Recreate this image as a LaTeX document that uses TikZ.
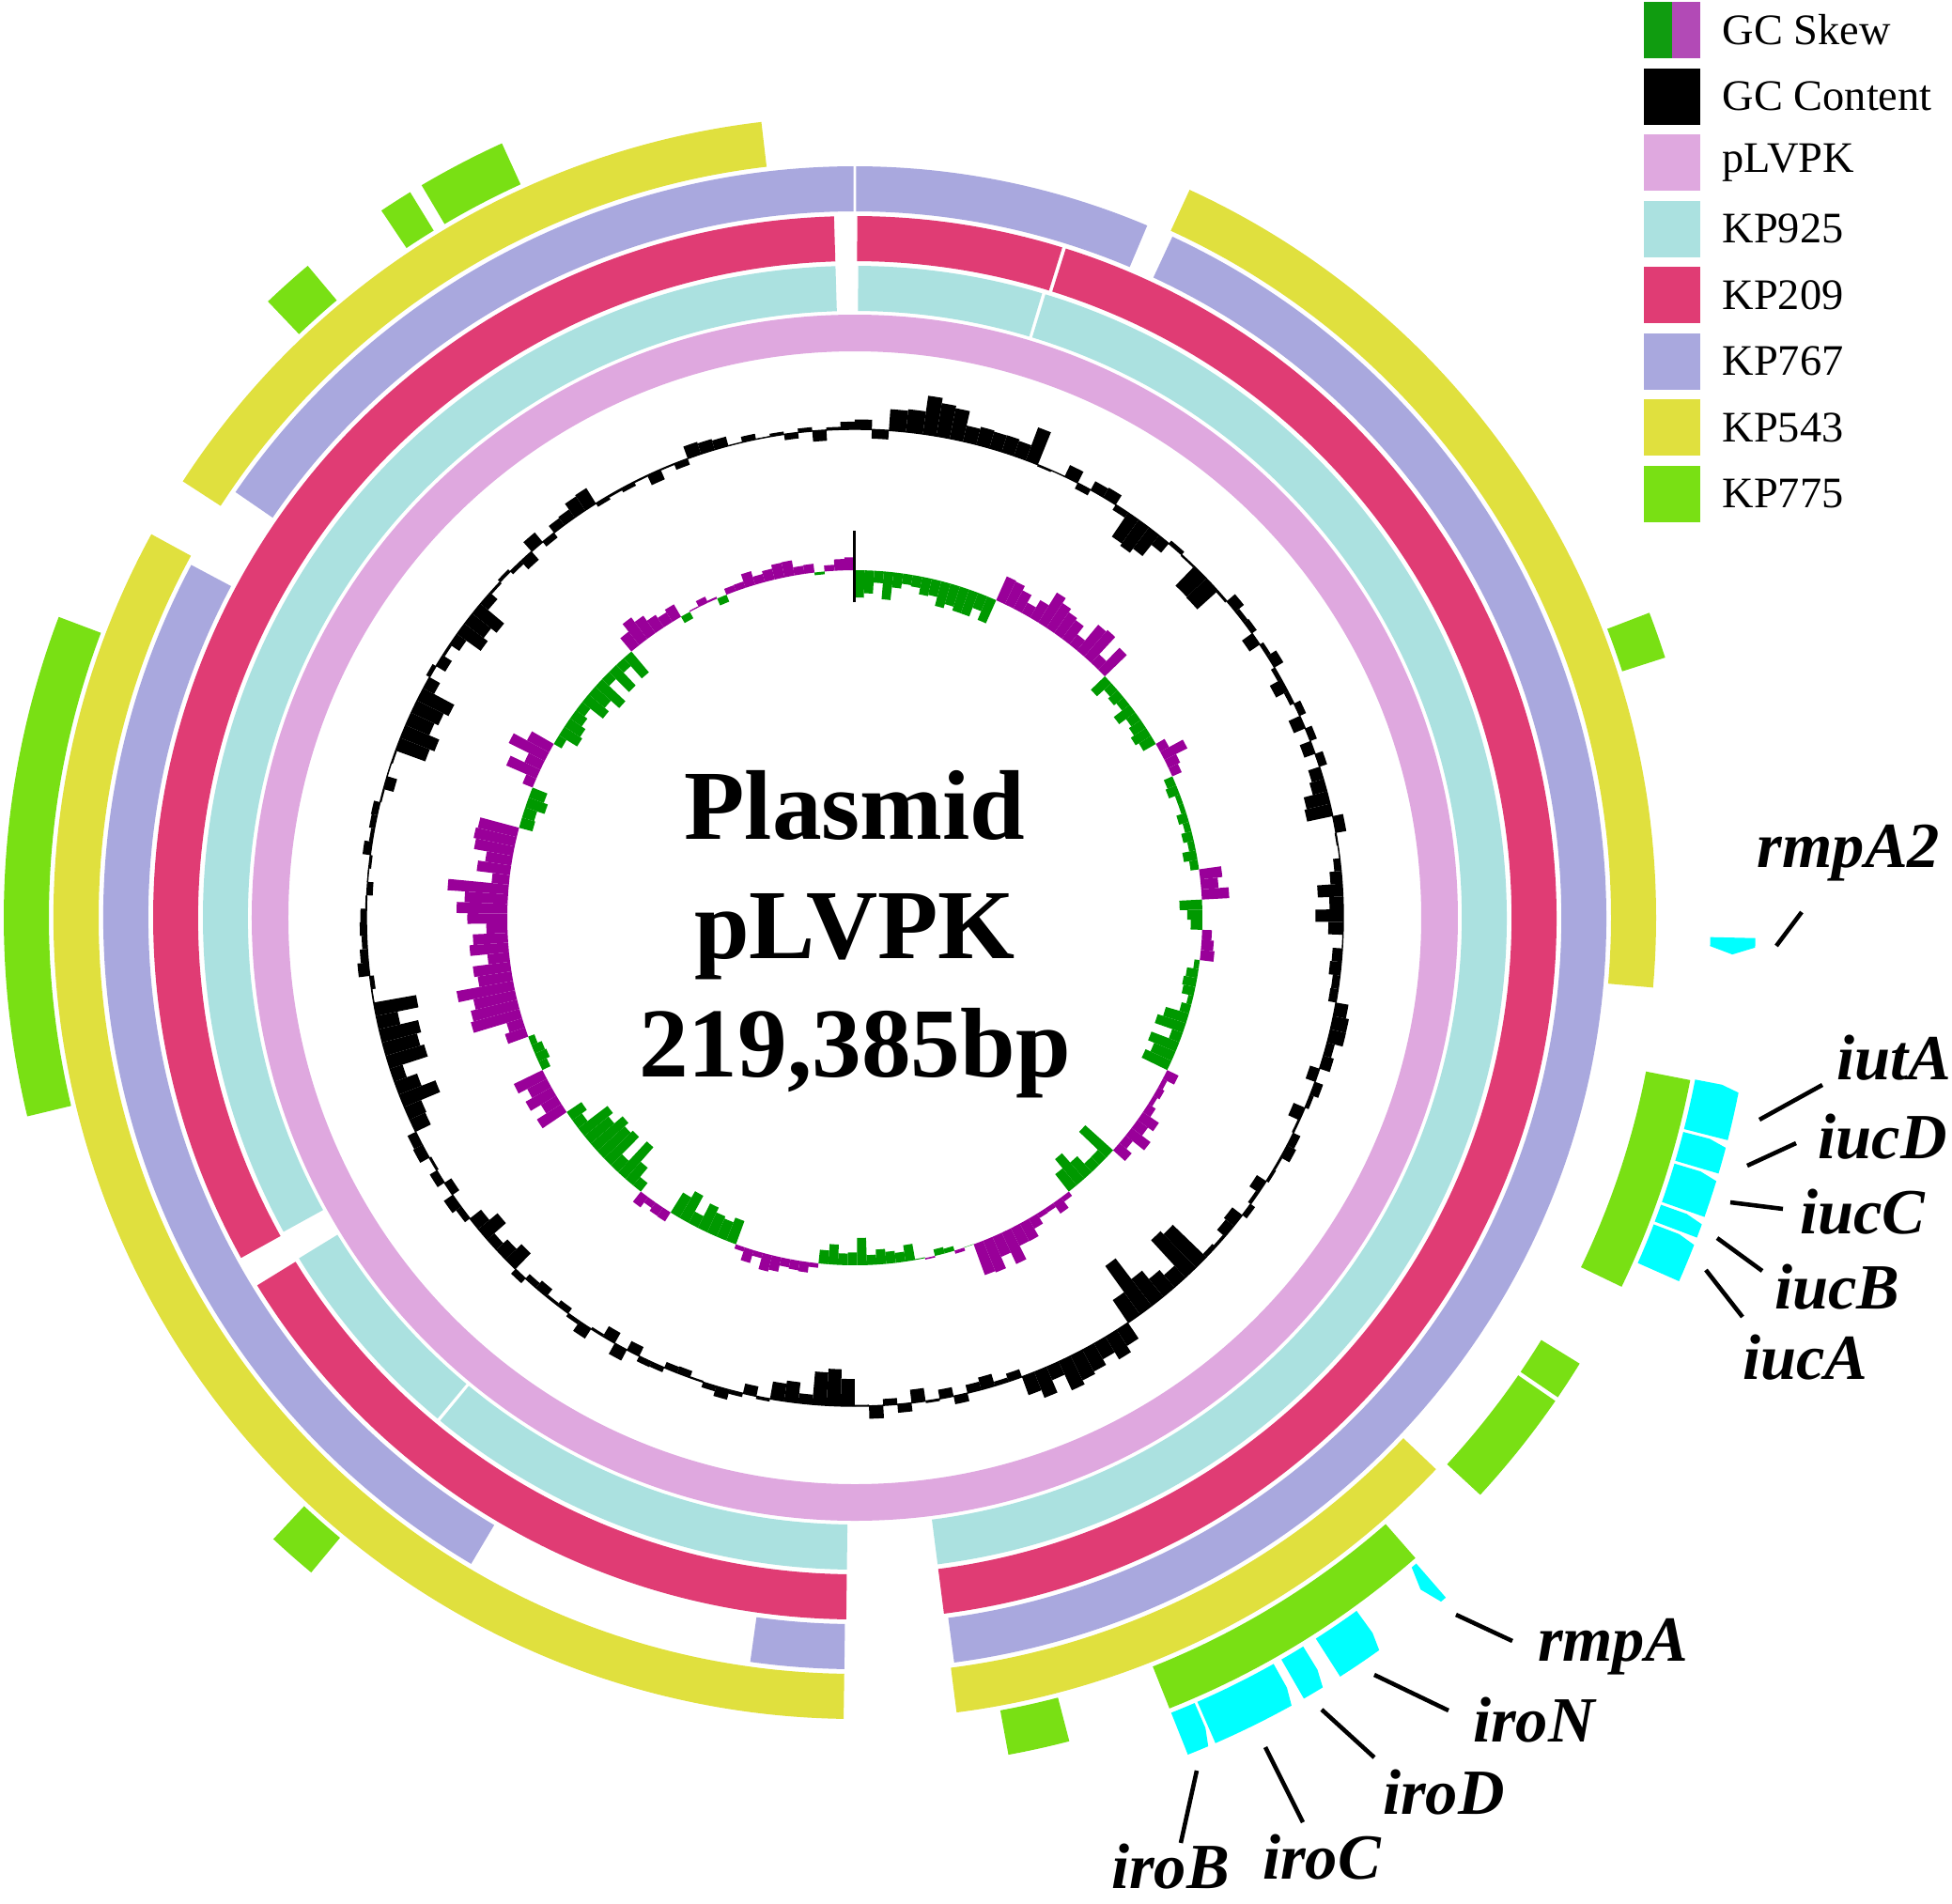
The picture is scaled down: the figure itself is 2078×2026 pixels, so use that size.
\documentclass[tikz,border=0pt]{standalone}
\usepackage{fontspec}
\setmainfont{Liberation Serif}
\definecolor{cpl}{HTML}{DFA8DF}
\definecolor{c925}{HTML}{ABE1E0}
\definecolor{c209}{HTML}{E03C74}
\definecolor{c767}{HTML}{A9A8DE}
\definecolor{c543}{HTML}{E0E03E}
\definecolor{c775}{HTML}{79E014}
\definecolor{cgene}{HTML}{00FFFF}
\definecolor{skp}{HTML}{990099}
\definecolor{skm}{HTML}{009900}
\definecolor{lgp}{HTML}{B24AB6}
\definecolor{lgm}{HTML}{109C10}
\newcommand{\arcseg}[5]{\fill[#1] ({90-(#4)}:#2) arc[start angle={90-(#4)},end angle={90-(#5)},radius=#2]
  -- ({90-(#5)}:#3) arc[start angle={90-(#5)},end angle={90-(#4)},radius=#3] -- cycle;}
\newcommand{\geneccw}[2]{\fill[cgene] ({90-(#2)}:911) -- ({90-(#2)}:959) arc[start angle={90-(#2)},end angle={90-(#1)-0.3},radius=959]
  -- ({90-(#1)}:940) -- ({90-(#1)}:911) arc[start angle={90-(#1)},end angle={90-(#2)},radius=911] -- cycle;}
\newcommand{\genecw}[2]{\fill[cgene] ({90-(#1)}:911) -- ({90-(#1)}:959) arc[start angle={90-(#1)},end angle={90-(#2)+0.5},radius=959]
  -- ({90-(#2)}:935) -- ({90-(#2)+0.5}:911) arc[start angle={90-(#2)+0.5},end angle={90-(#1)},radius=911] -- cycle;}
\newcommand{\histo}[4]{\foreach \a/\b/\m in {#2}{
    \pgfmathtruncatemacro\nb{max(1,round((\b-\a)/1.6))}
    \pgfmathsetmacro\w{(\b-\a)/\nb}
    \foreach \i in {1,...,\nb}{
      \pgfmathsetmacro\s{\a+(\i-1)*\w}
      \pgfmathsetmacro\e{\s+\w}
      \pgfmathsetmacro\v{\m==0 ? (rnd-0.5)*28 : \m*(0.25+0.75*rnd)}
      \ifdim\v pt>0pt\def\hc{#3}\else\def\hc{#4}\fi
      \fill[\hc] ({90-\s}:#1) arc[start angle={90-\s},end angle={90-\e},radius=#1]
        -- ({90-\e}:{#1+\v}) arc[start angle={90-\e},end angle={90-\s},radius={#1+\v}] -- cycle;
    }}}

\begin{document}
\begin{tikzpicture}[x=0.1mm,y=0.1mm,
    lbl/.style={font=\bfseries\itshape\fontsize{19.5}{20}\selectfont,inner sep=0pt},
    lead/.style={line width=1.3pt},
    leg/.style={anchor=west,font=\fontsize{13.2}{14}\selectfont,inner sep=0pt},
    ctr/.style={align=center,font=\bfseries\fontsize{30}{36}\selectfont}]
  \useasboundingbox (-910,-1049) rectangle (1168,977);
  \pgfmathsetseed{7}
  \fill[cpl,even odd rule] (0,0) circle[radius=642] (0,0) circle[radius=603];
  \foreach \a/\b in {0.3/16.7, 17/172.7, 180.7/219.5, 219.8/238.5, 241.2/358.3} {\arcseg{c925}{646}{694}{\a}{\b}}
  \foreach \a/\b in {0.2/17.2, 17.5/172.7, 180.7/238.4, 241/358.3} {\arcseg{c209}{699}{747}{\a}{\b}}
  \foreach \a/\b in {0.1/22.9, 25/172.4, 180.8/188, 210.7/298, 304.5/359.9} {\arcseg{c767}{752}{800}{\a}{\b}}
  \foreach \a/\b in {24.7/95, 133.5/172.7, 180.8/298.6, 303/353.3} {\arcseg{c543}{805}{853}{\a}{\b}}
  \foreach \a/\b in {69/72.2, 101/115.7, 121.6/124.3, 124.6/132.7, 138.8/158.3, 165.4/169.6,
      219.7/223.1, 256.5/290.7, 316.4/320, 326.2/328.5, 329.4/335.5} {\arcseg{c775}{858}{906}{\a}{\b}}
  \genecw{91.3}{92.4}
  \geneccw{100.9}{104.3}
  \geneccw{104.5}{106.5}
  \geneccw{106.7}{109.4}
  \geneccw{109.6}{110.8}
  \geneccw{111}{113.8}
  \genecw{139}{139.9}
  \geneccw{144.1}{147.4}
  \geneccw{148.4}{150.1}
  \geneccw{150.7}{156.4}
  \geneccw{156.6}{158.3}
  \histo{520}{0/4/0, 4/8/25, 8/16/52, 16/22/45, 22/34/0, 34/40/-35, 40/44/0, 44/48/-30, 48/72/0,
    72/78/-35, 78/80/30, 80/86/0, 86/92/-55, 92/100/0, 100/108/28, 108/134/0, 134/146/-65,
    146/160/35, 160/180/0, 180/190/-40, 190/224/0, 224/232/-30, 232/244/0, 244/260/-50,
    260/290/0, 290/298/-40, 298/304/0, 304/310/-35, 310/322/0, 322/328/35, 328/340/0,
    340/345/30, 345/360/0}{black}{black}
  \draw[line width=0.4pt] (0,0) circle[radius=520];
  \histo{370}{0/24/-30, 24/46/45, 46/60/-35, 60/66/30, 66/82/-18, 82/87/45, 87/92/-45, 92/97/20,
    97/106/-15, 106/116/-35, 116/124/15, 124/132/35, 132/142/-40, 142/150/15, 150/160/40,
    160/170/0, 170/186/-30, 186/200/18, 200/212/-35, 212/218/15, 218/236/-45, 236/244/35,
    244/250/-15, 250/285/65, 285/292/-25, 292/300/45, 300/320/-35, 320/330/30, 330/340/0,
    340/350/18, 350/360/0}{skp}{skm}
  \coordinate (tick-in) at (90:336);
  \coordinate (tick-out) at (90:412);
  \draw[line width=0.3mm] (tick-in) -- (tick-out);
  \node[ctr] (title) at (0,-18) {Plasmid\\pLVPK\\219,385bp};
  \foreach \g/\ax/\ay/\bx/\by/\tx/\ty in {rmpA2/981/-30/1008/6/1058/69, iutA/963/-215/1030/-178/1106/-149,
      iucD/950/-264/1002/-240/1094/-233, iucC/932/-303/988/-310/1073/-313,
      iucB/918/-341/966/-376/1046/-393, iucA/906/-375/945/-425/1012/-468,
      rmpA/640/-742/700/-770/807/-776, iroN/553/-806/632/-844/723/-854,
      iroD/497/-843/553/-894/627/-931, iroC/437/-883/477/-963/497/-1000,
      iroB/364/-908/347/-985/336/-1010}{
    \coordinate (\g-a) at (\ax,\ay);
    \coordinate (\g-b) at (\bx,\by);
    \draw[lead] (\g-a) -- (\g-b);
    \node[lbl] (\g) at (\tx,\ty) {\g};
  }
  \fill[lgm] (840,975) rectangle (870,915);
  \fill[lgp] (870,975) rectangle (900,915);
  \node[leg] (lg0) at (923,945) {GC Skew};
  \foreach \k/\c/\t in {1/black/GC Content, 2/cpl/pLVPK, 3/c925/KP925, 4/c209/KP209,
      5/c767/KP767, 6/c543/KP543, 7/c775/KP775}{
    \fill[\c] (840,{975-70.5*\k}) rectangle (900,{915-70.5*\k});
    \node[leg] (lg\k) at (923,{945-70.5*\k}) {\t};
  }
\end{tikzpicture}
\end{document}
